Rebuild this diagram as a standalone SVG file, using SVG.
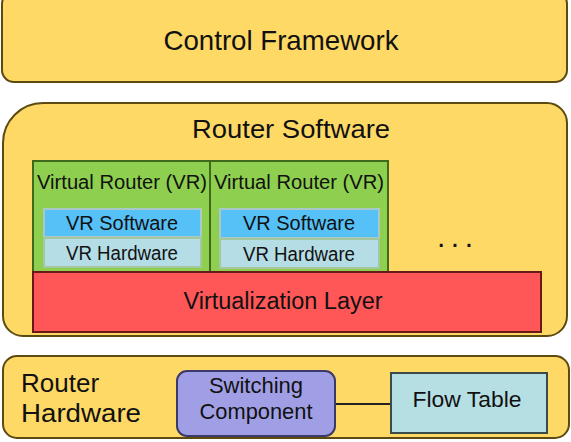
<svg xmlns="http://www.w3.org/2000/svg" width="571" height="442" viewBox="0 0 571 442">
<style>
.yb{fill:#fed966;stroke:#5c4a10;stroke-width:2}
.t{font-family:"Liberation Sans",Arial,sans-serif;fill:#111;text-anchor:middle;dominant-baseline:central}
.vr{fill:#8fcf4f;stroke:#3f6a1c;stroke-width:2}
.sw{fill:#56c1f7;stroke:#a9c9c9;stroke-width:2}
.hw{fill:#b5dde5;stroke:#a5c7a0;stroke-width:2}
</style>
<rect width="571" height="442" fill="#fff"/>
<g id="control-framework">
<rect class="yb" x="2" y="-8" width="565" height="90" rx="12"/>
<text class="t" x="281" y="40" font-size="28" textLength="235" lengthAdjust="spacingAndGlyphs">Control Framework</text>
</g>
<g id="router-software">
<path class="yb" d="M3,143 A40,40 0 0 1 43,103 L547,103 A20,20 0 0 1 567,123 L567,316 A20,20 0 0 1 547,336 L23,336 A20,20 0 0 1 3,316 Z"/>
<text class="t" x="291" y="129" font-size="26" textLength="198" lengthAdjust="spacingAndGlyphs">Router Software</text>
</g>
<g id="vr1">
<rect class="vr" x="33" y="161" width="177" height="111"/>
<text class="t" x="122" y="182" font-size="20" textLength="170" lengthAdjust="spacingAndGlyphs">Virtual Router (VR)</text>
<g id="vr1-software"><rect class="sw" x="44" y="209" width="157" height="28"/><text class="t" x="122" y="223" font-size="20" textLength="112" lengthAdjust="spacingAndGlyphs">VR Software</text></g>
<g id="vr1-hardware"><rect class="hw" x="44" y="238" width="157" height="29"/><text class="t" x="122" y="253" font-size="20" textLength="112" lengthAdjust="spacingAndGlyphs">VR Hardware</text></g>
</g>
<g id="vr2">
<rect class="vr" x="210" y="161" width="178" height="111"/>
<text class="t" x="299" y="182" font-size="20" textLength="170" lengthAdjust="spacingAndGlyphs">Virtual Router (VR)</text>
<g id="vr2-software"><rect class="sw" x="220" y="209" width="159" height="29"/><text class="t" x="299" y="223" font-size="20" textLength="112" lengthAdjust="spacingAndGlyphs">VR Software</text></g>
<g id="vr2-hardware"><rect class="hw" x="220" y="239" width="159" height="29"/><text class="t" x="299" y="254" font-size="20" textLength="112" lengthAdjust="spacingAndGlyphs">VR Hardware</text></g>
</g>
<text class="t" x="455" y="236" font-size="30" textLength="36" lengthAdjust="spacing">...</text>
<g id="virtualization-layer">
<rect x="33" y="272" width="508" height="60" fill="#ff5757" stroke="#6a1818" stroke-width="2"/>
<text class="t" x="283" y="301" font-size="23" textLength="199" lengthAdjust="spacingAndGlyphs">Virtualization Layer</text>
</g>
<g id="router-hardware">
<rect class="yb" x="3" y="356" width="566" height="82" rx="14"/>
<text font-family="Liberation Sans,Arial,sans-serif" font-size="26" fill="#111" x="21" y="392">Router</text>
<text font-family="Liberation Sans,Arial,sans-serif" font-size="26" fill="#111" x="21" y="422" textLength="120" lengthAdjust="spacingAndGlyphs">Hardware</text>
</g>
<g id="connectors">
<line x1="335" y1="404" x2="391" y2="404" stroke="#222" stroke-width="2"/>
</g>
<g id="switching-component">
<rect x="177" y="371" width="158" height="65" rx="10" fill="#a09fe6" stroke="#3a3a6a" stroke-width="2"/>
<text class="t" x="256" y="385" font-size="22">Switching</text>
<text class="t" x="256" y="411" font-size="22" textLength="113" lengthAdjust="spacingAndGlyphs">Component</text>
</g>
<g id="flow-table">
<rect x="391" y="373" width="156" height="60" fill="#b5dfe3" stroke="#3a4a4a" stroke-width="2"/>
<text class="t" x="467" y="399" font-size="22" textLength="109" lengthAdjust="spacingAndGlyphs">Flow Table</text>
</g>
</svg>
